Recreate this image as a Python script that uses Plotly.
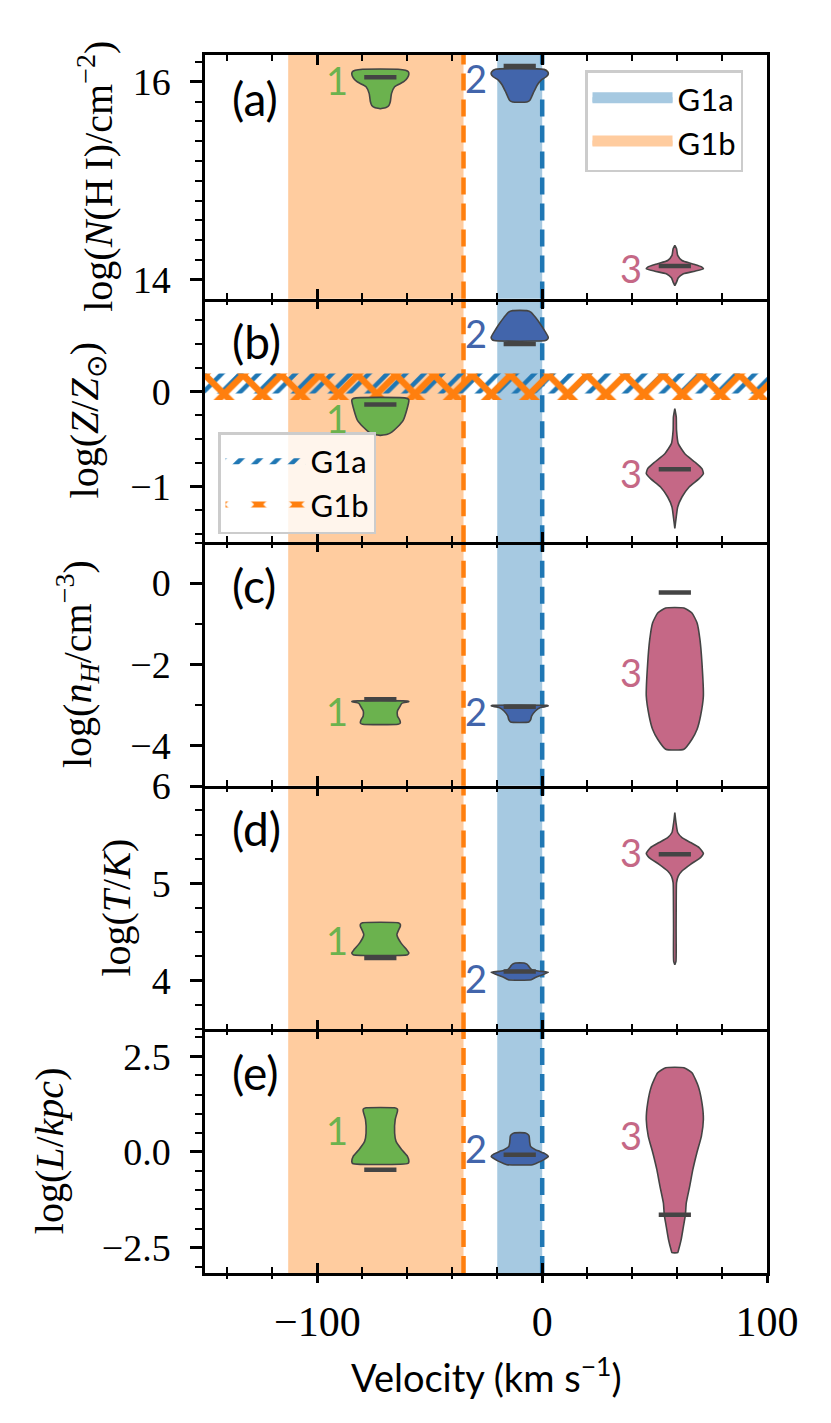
import plotly.graph_objects as go

# ---------------- data ----------------
COMPONENTS = ["1", "2", "3"]
VELOCITY = [-72, -10, 59]            # km/s, centre of each component's violin
COMP_COLORS = ["#6bb24e", "#4265ab", "#c56886"]

# Violin outlines: y values (top -> bottom) and normalised half-widths
# panel (a) log N(HI)
NHI1_Y = [16.126, 16.115, 16.10, 16.078, 16.04, 16.0, 15.95, 15.88, 15.80, 15.76, 15.74, 15.728]
NHI1_W = [0.62, 0.88, 0.98, 1.0, 0.95, 0.82, 0.5, 0.39, 0.35, 0.3, 0.2, 0.0]
NHI2_Y = [16.125, 16.10, 16.078, 16.05, 16.017, 15.97, 15.93, 15.89, 15.85, 15.81, 15.795]
NHI2_W = [0.85, 0.98, 1.0, 0.93, 0.75, 0.62, 0.55, 0.48, 0.42, 0.35, 0.25]
NHI3_Y = [14.347, 14.314, 14.246, 14.195, 14.162, 14.128, 14.111, 14.087, 14.061, 14.02, 13.976, 13.942]
NHI3_W = [0.0, 0.06, 0.1, 0.25, 0.6, 0.95, 1.0, 0.7, 0.3, 0.12, 0.06, 0.0]
NHI_BEST = [16.045, 16.16, 14.138]
NHI_LABEL_Y = [16.017, 16.037, 14.124]

# panel (b) log Z/Zsun
Z1_Y = [-0.067, -0.08, -0.095, -0.2, -0.305, -0.375, -0.428, -0.45, -0.463]
Z1_W = [0.85, 0.98, 1.0, 0.92, 0.8, 0.6, 0.4, 0.25, 0.0]
Z2_Y = [0.853, 0.835, 0.782, 0.712, 0.642, 0.572, 0.55, 0.537]
Z2_W = [0.25, 0.4, 0.55, 0.72, 0.87, 1.0, 0.97, 0.9]
Z3_Y = [-0.182, -0.27, -0.41, -0.55, -0.656, -0.744, -0.814, -0.866, -0.919, -1.007, -1.113, -1.218, -1.323, -1.445]
Z3_W = [0.0, 0.05, 0.06, 0.12, 0.35, 0.7, 0.95, 1.0, 0.85, 0.5, 0.25, 0.1, 0.05, 0.0]
Z_BEST = [-0.137, 0.502, -0.821]
Z_LABEL_Y = [-0.284, 0.621, -0.863]

# panel (c) log nH
NH1_Y = [-2.909, -2.925, -2.966, -3.05, -3.15, -3.277, -3.38, -3.45, -3.48]
NH1_W = [0.95, 1.0, 0.75, 0.68, 0.6, 0.6, 0.68, 0.7, 0.62]
NH2_Y = [-3.015, -3.03, -3.07, -3.155, -3.277, -3.376, -3.425]
NH2_W = [0.95, 1.0, 0.72, 0.55, 0.42, 0.38, 0.32]
NH3_Y = [-0.614, -0.737, -0.983, -1.393, -1.966, -2.786, -3.278, -3.604, -3.85, -4.096]
NH3_W = [0.32, 0.6, 0.78, 0.88, 0.95, 1.0, 0.9, 0.78, 0.6, 0.32]
NH_BEST = [-2.867, -3.05, -0.23]
NH_LABEL_Y = [-3.16, -3.16, -2.18]

# panel (d) log T
T1_Y = [4.595, 4.58, 4.56, 4.474, 4.389, 4.32, 4.285, 4.268]
T1_W = [0.62, 0.7, 0.7, 0.58, 0.72, 0.92, 1.0, 0.95]
T2_Y = [4.182, 4.17, 4.155, 4.113, 4.096, 4.086, 4.062, 4.034, 4.01]
T2_W = [0.15, 0.25, 0.3, 0.42, 0.75, 1.0, 0.8, 0.55, 0.4]
T3_Y = [5.729, 5.626, 5.523, 5.471, 5.42, 5.368, 5.309, 5.265, 5.196, 5.127, 5.075, 5.007, 4.869, 4.526, 4.2, 4.165]
T3_W = [0.0, 0.04, 0.1, 0.25, 0.55, 0.85, 1.0, 0.9, 0.55, 0.25, 0.12, 0.06, 0.05, 0.045, 0.04, 0.0]
T_BEST = [4.234, 4.096, 5.299]
T_LABEL_Y = [4.423, 4.031, 5.32]

# panel (e) log L
L1_Y = [1.152, 1.12, 1.063, 0.846, 0.497, 0.277, 0.06, -0.115, -0.246, -0.30]
L1_W = [0.5, 0.6, 0.6, 0.52, 0.5, 0.55, 0.75, 0.95, 1.0, 0.97]
L2_Y = [0.497, 0.45, 0.409, 0.25, 0.147, 0.06, 0.016, -0.05, -0.115, -0.2, -0.29, -0.332]
L2_W = [0.2, 0.3, 0.33, 0.35, 0.38, 0.55, 0.7, 0.9, 1.0, 0.85, 0.6, 0.45]
L3_Y = [2.199, 2.068, 1.717, 1.283, 0.846, 0.409, -0.026, -0.463, -0.9, -1.335, -1.641, -1.948, -2.296, -2.558, -2.628]
L3_W = [0.32, 0.6, 0.82, 0.95, 1.0, 0.93, 0.77, 0.63, 0.52, 0.4, 0.37, 0.3, 0.22, 0.13, 0.1]
L_BEST = [-0.463, -0.071, -1.641]
L_LABEL_Y = [0.584, 0.113, 0.453]

# Velocity ranges of the two groups (km/s)
G1A_VRANGE = [-20, 0]
G1B_VRANGE = [-113, -35]
# Metallicity bands of the two groups (log Z/Zsun)
G1A_ZRANGE = [-0.02, 0.19]
G1B_ZRANGE = [-0.09, 0.19]

PANEL_LETTERS = ["(a)", "(b)", "(c)", "(d)", "(e)"]
Y_TITLES = [
    "log(<i>N</i>(H\u2009I)/cm<sup>\u22122</sup>)",
    "log(<i>Z</i>/<i>Z</i><sub>\u2299</sub>)",
    "log(<i>n<sub>H</sub></i>/cm<sup>\u22123</sup>)",
    "log(<i>T</i>/<i>K</i>)",
    "log(<i>L</i>/<i>kpc</i>)",
]
X_TITLE = "Velocity (km s<sup>\u22121</sup>)"

# ---------------- style ----------------
PAGE = 8                      # default body margin of the html page
W, H = 831 - PAGE, 1423 - PAGE
ML, MR, MT, MB = 205 - PAGE, 64, 55 - PAGE, 150
PW = W - ML - MR
PH = H - MT - MB
SERIF = "Liberation Serif"
SANS = "Lato"
HALF_WIDTH = 12.7        # km/s, half-width of the widest part of a violin
OUTLINE = "#444444"
LW = 2.5


def px_x(px):   # absolute page pixel -> paper x
    return (px - PAGE - ML) / PW


def px_y(py):   # absolute page pixel -> paper y
    return 1 - (py - PAGE - MT) / PH


panels = [
    dict(ys=[NHI1_Y, NHI2_Y, NHI3_Y], ws=[NHI1_W, NHI2_W, NHI3_W], best=NHI_BEST, lab=NHI_LABEL_Y,
         rng=[13.81, 16.27], dtick=2, tick0=14, minor=0.2, fmt=None, title_px=96),
    dict(ys=[Z1_Y, Z2_Y, Z3_Y], ws=[Z1_W, Z2_W, Z3_W], best=Z_BEST, lab=Z_LABEL_Y,
         rng=[-1.59, 0.98], dtick=1, tick0=0, minor=0.25, fmt=None, title_px=87),
    dict(ys=[NH1_Y, NH2_Y, NH3_Y], ws=[NH1_W, NH2_W, NH3_W], best=NH_BEST, lab=NH_LABEL_Y,
         rng=[-5.0, 1.01], dtick=2, tick0=0, minor=1, fmt=None, title_px=77),
    dict(ys=[T1_Y, T2_Y, T3_Y], ws=[T1_W, T2_W, T3_W], best=T_BEST, lab=T_LABEL_Y,
         rng=[3.5, 6.003], dtick=1, tick0=0, minor=0.25, fmt=None, title_px=117),
    dict(ys=[L1_Y, L2_Y, L3_Y], ws=[L1_W, L2_W, L3_W], best=L_BEST, lab=L_LABEL_Y,
         rng=[-3.16, 3.2], dtick=2.5, tick0=0, minor=0.5, fmt=".1f", title_px=49),
]

fig = go.Figure()
n = len(panels)
shapes = []
annotations = []
layout_axes = {}


def tick_axis(overlay, anchor, side, ticks, major_len, minor_len, line=False):
    return dict(overlaying=overlay, anchor=anchor, side=side, range=[-150, 100],
                showgrid=False, zeroline=False, showline=line, linecolor="black", linewidth=LW,
                ticks=ticks, ticklen=major_len, tickwidth=LW, tickcolor="black",
                tick0=0, dtick=100, showticklabels=False,
                minor=dict(ticks=ticks, ticklen=minor_len, tickwidth=2, tickcolor="black",
                           dtick=20, tick0=0))


for i, p in enumerate(panels):
    k = "" if i == 0 else str(i + 1)
    xr, yr = "x" + k, "y" + k
    top = 1 - i / n
    bot = 1 - (i + 1) / n

    # background spans and dashed lines
    for vr, col in [(G1B_VRANGE, "#ffcc9f"), (G1A_VRANGE, "#a6c9e1")]:
        shapes.append(dict(type="rect", xref=xr, yref=yr + " domain", x0=vr[0], x1=vr[1],
                           y0=0, y1=1, fillcolor=col, line=dict(width=0), layer="below"))
    for vr, lcol in [(G1B_VRANGE, "#ff7f0e"), (G1A_VRANGE, "#1f77b4")]:
        shapes.append(dict(type="line", xref=xr, yref=yr + " domain", x0=vr[1], x1=vr[1],
                           y0=0, y1=1, line=dict(color=lcol, width=4.5, dash="17px,9px"),
                           layer="below"))

    # hatched metallicity bands in panel (b)
    if i == 1:
        for name, zr, shape, col, size, sol in [("G1a", G1A_ZRANGE, "/", "#1f77b4", 13, 0.35),
                                                ("G1b", G1B_ZRANGE, "x", "#ff7f0e", 27, 0.42)]:
            fig.add_trace(go.Scatter(
                x=[-150, 100, 100, -150, -150], y=[zr[0], zr[0], zr[1], zr[1], zr[0]],
                mode="none", fill="toself", fillcolor="rgba(0,0,0,0)",
                fillpattern=dict(shape=shape, fgcolor=col, bgcolor="rgba(0,0,0,0)",
                                 size=size, solidity=sol, fillmode="replace"),
                name=name, legend="legend2", showlegend=True, hoverinfo="skip",
                xaxis=xr, yaxis=yr))

    # violins
    for c in range(3):
        ys, ws = p["ys"][c], p["ws"][c]
        xc = VELOCITY[c]
        xs_r = [xc + w * HALF_WIDTH for w in ws]
        xs_l = [xc - w * HALF_WIDTH for w in ws]
        px = xs_r + xs_l[::-1] + [xs_r[0]]
        py = ys + ys[::-1] + [ys[0]]
        fig.add_trace(go.Scatter(
            x=px, y=py, mode="lines", fill="toself", fillcolor=COMP_COLORS[c],
            line=dict(color=OUTLINE, width=1.6, shape="spline", smoothing=0.5),
            showlegend=False, hoverinfo="skip", xaxis=xr, yaxis=yr))
        annotations.append(dict(
            x=xc - HALF_WIDTH - 0.8, y=p["lab"][c], xref=xr, yref=yr, text=COMPONENTS[c],
            showarrow=False, xanchor="right", yanchor="middle",
            font=dict(family=SANS, size=38, color=COMP_COLORS[c])))

    # best-fit markers
    fig.add_trace(go.Scatter(
        x=VELOCITY, y=p["best"], mode="markers",
        marker=dict(symbol="line-ew", size=23, line=dict(color=OUTLINE, width=4.5)),
        showlegend=False, hoverinfo="skip", xaxis=xr, yaxis=yr))

    layout_axes["xaxis" + k] = dict(
        domain=[0, 1], anchor=yr, range=[-150, 100], showgrid=False, zeroline=False,
        showline=True, linecolor="black", linewidth=LW, mirror=False,
        ticks="inside", ticklen=10, tickwidth=LW, tickcolor="black",
        tick0=0, dtick=100,
        minor=dict(ticks="inside", ticklen=6, tickwidth=2, tickcolor="black", dtick=20, tick0=0),
        showticklabels=(i == n - 1),
        tickfont=dict(family=SERIF, size=42, color="black"), ticklabelstandoff=10,
        **({} if i == 0 else {"matches": "x"}))

    # ticks along the top edge of every panel (line only on the top panel)
    top_id = 11 + i
    fig.add_trace(go.Scatter(x=[None], y=[None], xaxis="x%d" % top_id, yaxis=yr,
                             showlegend=False, hoverinfo="skip"))
    layout_axes["xaxis%d" % top_id] = tick_axis(xr, yr, "top", "inside", 10, 6, line=(i == 0))

    ya = dict(
        domain=[bot, top], anchor=xr, range=p["rng"], showgrid=False, zeroline=False,
        showline=True, linecolor="black", linewidth=LW, mirror=True,
        ticks="outside", ticklen=12, tickwidth=LW, tickcolor="black",
        tick0=p["tick0"], dtick=p["dtick"],
        minor=dict(ticks="outside", ticklen=7, tickwidth=2, tickcolor="black",
                   dtick=p["minor"], tick0=p["tick0"]),
        tickfont=dict(family=SERIF, size=38, color="black"), ticklabelstandoff=12)
    if p["fmt"]:
        ya["tickformat"] = p["fmt"]
    layout_axes["yaxis" + k] = ya

    # panel letter
    annotations.append(dict(
        x=25 / PW, y=1 - 43 / (PH / n), xref=xr + " domain", yref=yr + " domain",
        text=PANEL_LETTERS[i], showarrow=False, xanchor="left", yanchor="middle",
        font=dict(family=SANS, size=46, color="black")))
    # y title
    annotations.append(dict(
        x=px_x(p["title_px"]), y=(top + bot) / 2, xref="paper", yref="paper",
        text=Y_TITLES[i], textangle=-90, showarrow=False, xanchor="center", yanchor="middle",
        font=dict(family=SERIF, size=40, color="black")))

# outward ticks on the bottom of the last panel
fig.add_trace(go.Scatter(x=[None], y=[None], xaxis="x6", yaxis="y5",
                         showlegend=False, hoverinfo="skip"))
layout_axes["xaxis6"] = tick_axis("x5", "y5", "bottom", "outside", 9, 5)

# legend entries for the velocity spans (panel a)
for name, col in [("G1a", "#a6c9e1"), ("G1b", "#ffcc9f")]:
    fig.add_trace(go.Scatter(x=[None], y=[None], mode="lines", fill="toself", fillcolor=col,
                             line=dict(color=col, width=10),
                             name=name, legend="legend", showlegend=True, hoverinfo="skip"))

annotations.append(dict(
    x=0.5, y=px_y(1375), xref="paper", yref="paper", text=X_TITLE,
    showarrow=False, xanchor="center", yanchor="middle",
    font=dict(family=SANS, size=38, color="black")))

legend_style = dict(xanchor="left", yanchor="top",
                    bgcolor="rgba(255,255,255,0.8)", bordercolor="#cccccc", borderwidth=2.5,
                    font=dict(family=SANS, size=31, color="black"), itemwidth=80,
                    tracegroupgap=0)

fig.update_layout(
    width=W, height=H, margin=dict(l=ML, r=MR, t=MT, b=MB, autoexpand=False),
    paper_bgcolor="white", plot_bgcolor="rgba(0,0,0,0)",
    font=dict(family=SERIF, color="black"),
    shapes=shapes, annotations=annotations,
    legend=dict(x=px_x(585), y=px_y(70), **legend_style),
    legend2=dict(x=px_x(218), y=px_y(432), **legend_style),
    **layout_axes,
)

fig.write_html("out.html")
